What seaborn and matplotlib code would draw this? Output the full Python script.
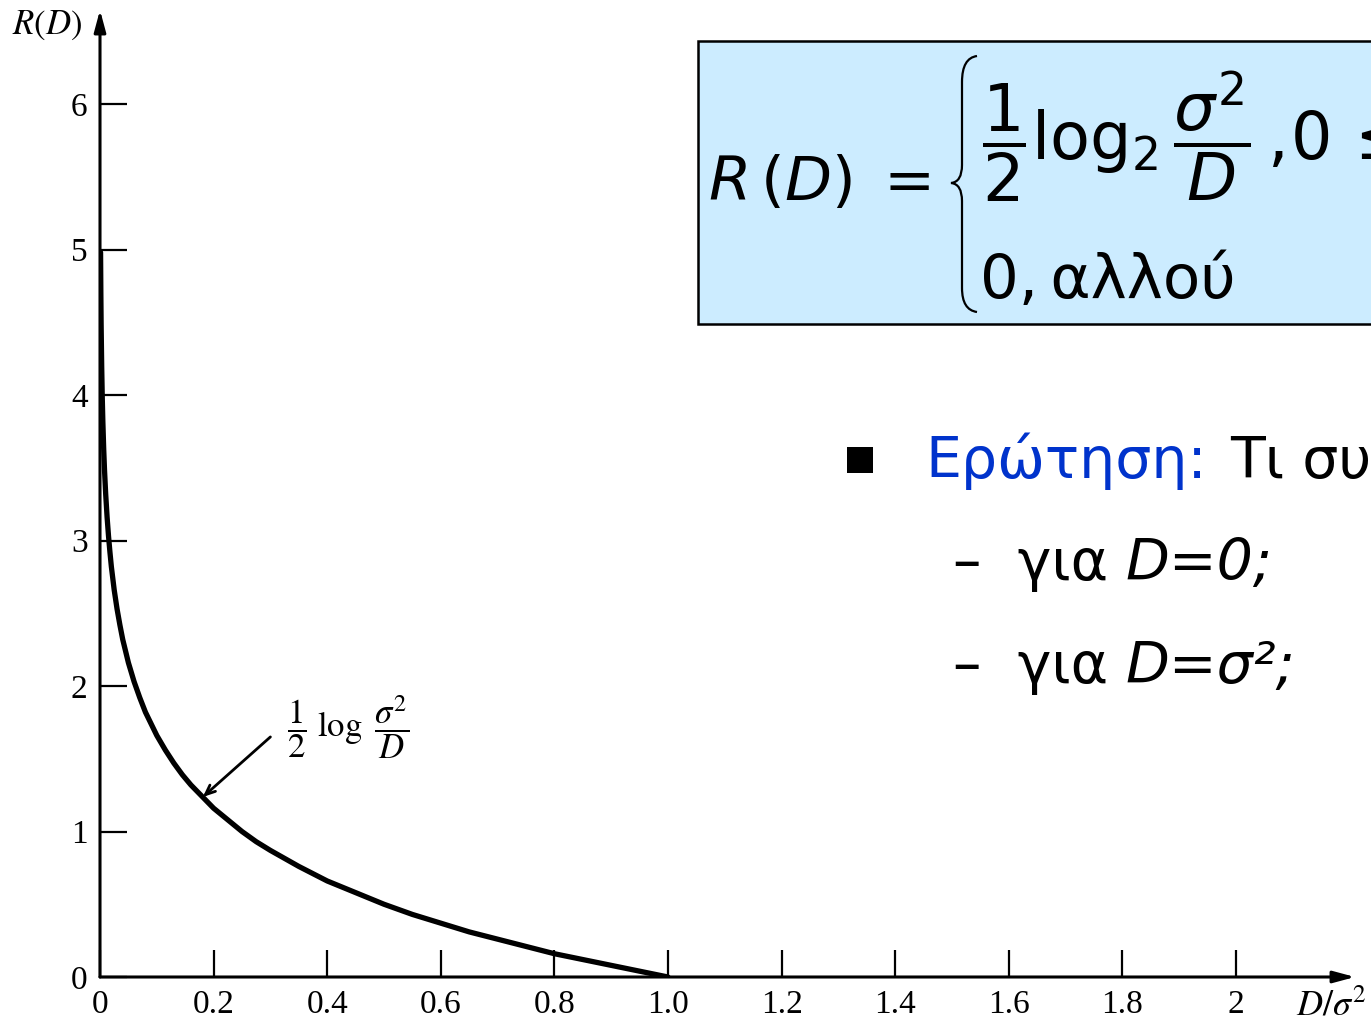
import numpy as np
import matplotlib
matplotlib.use("Agg")
import matplotlib.pyplot as plt
import seaborn as sns
from matplotlib.patches import Rectangle, PathPatch
from matplotlib.path import Path

# values (D / sigma^2 -> R(D))
dist = [0.001, 0.0015, 0.002, 0.003, 0.004, 0.005, 0.0065, 0.008, 0.01, 0.0125,
        0.015, 0.0175, 0.02, 0.025, 0.03, 0.035, 0.04, 0.045, 0.05, 0.06,
        0.07, 0.08, 0.09, 0.1, 0.115, 0.13, 0.145, 0.16, 0.18, 0.2,
        0.225, 0.25, 0.275, 0.3, 0.35, 0.4, 0.45, 0.5, 0.55, 0.6,
        0.65, 0.7, 0.75, 0.8, 0.85, 0.9, 0.95, 1.0]
rate = [4.98, 4.69, 4.48, 4.19, 3.98, 3.82, 3.63, 3.48, 3.32, 3.16,
        3.03, 2.92, 2.82, 2.66, 2.53, 2.42, 2.32, 2.24, 2.16, 2.03,
        1.92, 1.82, 1.74, 1.66, 1.56, 1.47, 1.39, 1.32, 1.24, 1.16,
        1.08, 1.0, 0.93, 0.87, 0.76, 0.66, 0.58, 0.5, 0.43, 0.37,
        0.31, 0.26, 0.21, 0.16, 0.12, 0.08, 0.04, 0.0]

xticks = [0, 0.2, 0.4, 0.6, 0.8, 1.0, 1.2, 1.4, 1.6, 1.8, 2.0]
xtick_labels = ["0", "0.2", "0.4", "0.6", "0.8", "1.0", "1.2", "1.4", "1.6", "1.8", "2"]
yticks = [0, 1, 2, 3, 4, 5, 6]

sns.set_style("white")
plt.rcParams["font.family"] = ["DejaVu Sans"]
plt.rcParams["text.color"] = "black"
plt.rcParams["xtick.color"] = "black"
plt.rcParams["ytick.color"] = "black"

W, H = 1371, 1022
fig = plt.figure(figsize=(W / 100, H / 100), dpi=100)


def P(x, y):
    # pixel position in the picture -> figure fraction
    return (x / W, 1 - y / H)


ax = fig.add_axes([100 / W, 45 / H, 1255 / W, 967 / H])
sns.lineplot(x=dist, y=rate, ax=ax, color="black", linewidth=3.8, estimator=None, sort=False)
ax.set_xlim(0, 1255 / 568)
ax.set_ylim(0, 967 / 145.5)

for s in ax.spines.values():
    s.set_visible(False)
arrow = dict(arrowstyle="-|>,head_length=1.3,head_width=0.35", lw=2.2, color="black",
             shrinkA=0, shrinkB=0)
ax.annotate("", xy=(1, 0), xytext=(0, 0), xycoords="axes fraction", arrowprops=arrow)
ax.annotate("", xy=(0, 1), xytext=(0, 0), xycoords="axes fraction", arrowprops=arrow)

ax.set_xticks(xticks)
ax.set_xticklabels(xtick_labels)
ax.set_yticks(yticks)
ax.tick_params(direction="in", length=19.5, width=1.6, color="black", labelcolor="black",
               pad=9, left=True, bottom=True, labelsize=24)
for lab in ax.get_xticklabels() + ax.get_yticklabels():
    lab.set_fontfamily("Liberation Serif")

# curve label
ax.annotate("", xy=(0.181, 1.237), xytext=(0.30, 1.65),
            arrowprops=dict(arrowstyle="->,head_length=0.7,head_width=0.3", lw=2, color="black",
                            shrinkA=0, shrinkB=0))
ax.text(0.437, 1.72, r"$\dfrac{1}{2}\ \log\ \dfrac{\sigma^2}{D}$", fontsize=25,
        math_fontfamily="stix", ha="center", va="center")

# axis names
fig.text(*P(12, 25), r"$R(D)$", fontsize=25, math_fontfamily="stix", ha="left", va="center")
fig.text(*P(1296, 1005), r"$D/\sigma^2$", fontsize=26, math_fontfamily="stix", ha="left", va="center")

# formula box
x0, y0 = P(698, 324)
fig.add_artist(Rectangle((x0, y0), (W - 698 + 20) / W, (324 - 41) / H, transform=fig.transFigure,
                         facecolor="#CCECFF", edgecolor="black", lw=1.8, clip_on=False))
fig.text(*P(708, 183), r"$R\,\left(D\right)\;=$", fontsize=44, math_fontfamily="dejavusans",
         ha="left", va="center")
brace = [P(977, 56), P(962, 58), P(962, 82), P(962, 165), P(962, 182), P(951, 183),
         P(962, 184), P(962, 201), P(962, 288), P(962, 310), P(977, 312)]
codes = [Path.MOVETO, Path.CURVE3, Path.CURVE3, Path.LINETO, Path.CURVE3, Path.CURVE3,
         Path.CURVE3, Path.CURVE3, Path.LINETO, Path.CURVE3, Path.CURVE3]
fig.add_artist(PathPatch(Path(brace, codes), transform=fig.transFigure, facecolor="none",
                         edgecolor="black", lw=1.6))
fig.text(*P(982, 137), r"$\dfrac{1}{2}\mathrm{log}_2\,\dfrac{\sigma^2}{D}\,,\!\mathrm{0}\,\leq\,D\,\leq\,\sigma^2$",
         fontsize=47, math_fontfamily="dejavusans", ha="left", va="center")
fig.text(*P(980, 298), "0,\u2009αλλού", fontsize=44, ha="left", va="baseline")

# bullet text
bx, by = P(847, 473)
fig.add_artist(Rectangle((bx, by), 26 / W, 26 / H, transform=fig.transFigure,
                         facecolor="black", edgecolor="none"))
fig.text(*P(925, 478), "Ερώτηση:", fontsize=41, color="#0033CC", ha="left", va="baseline")
fig.text(*P(1230, 478), "Τι συμβαίνει", fontsize=41, color="black", ha="left", va="baseline")
fig.text(*P(953, 580), "–  για", fontsize=41, ha="left", va="baseline")
fig.text(*P(1125, 580), "D=0;", fontsize=41, style="italic", ha="left", va="baseline")
fig.text(*P(953, 683), "–  για", fontsize=41, ha="left", va="baseline")
fig.text(*P(1125, 683), "D=σ²;", fontsize=41, style="italic", ha="left", va="baseline")

fig.savefig("out.png", dpi=100)
